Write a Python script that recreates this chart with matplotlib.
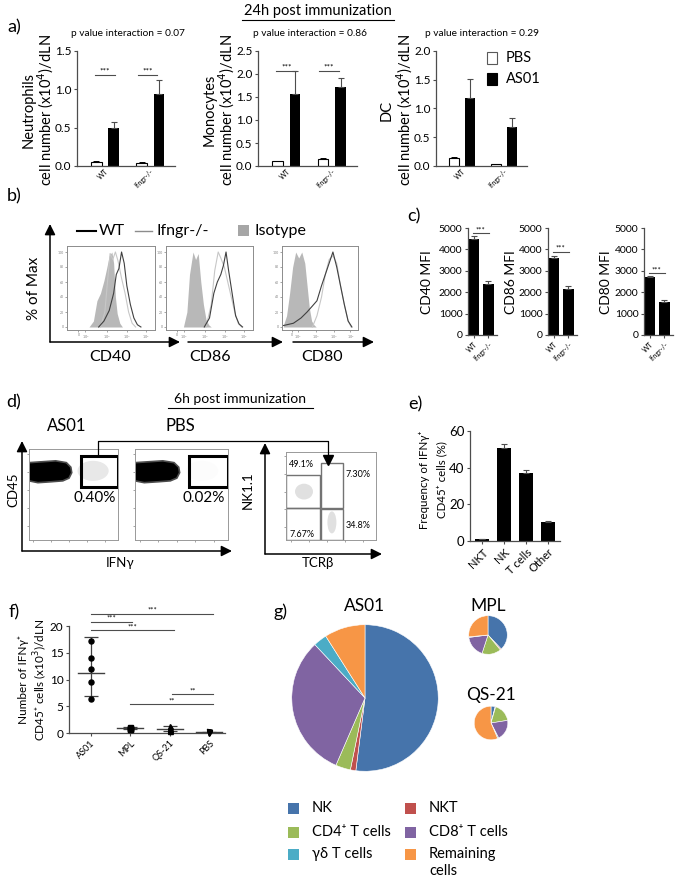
import numpy as np
import matplotlib
matplotlib.use('Agg')
import matplotlib.pyplot as plt
from matplotlib.patches import Rectangle, Polygon, Ellipse

plt.rcParams['font.family'] = ['Lato', 'DejaVu Sans']
plt.rcParams['axes.linewidth'] = 0.9

W, H = 675, 880

# ---------------- data ----------------
# a) cell numbers (x10^4)/dLN, 24h
groups_a = ['WT', 'Ifngr-/-']
neut_pbs, neut_pbs_err = [0.05, 0.04], [0.01, 0.01]
neut_as01, neut_as01_err = [0.49, 0.94], [0.08, 0.18]
mono_pbs, mono_pbs_err = [0.10, 0.16], [0.01, 0.01]
mono_as01, mono_as01_err = [1.56, 1.72], [0.50, 0.20]
dc_pbs, dc_pbs_err = [0.14, 0.03], [0.02, 0.01]
dc_as01, dc_as01_err = [1.18, 0.68], [0.33, 0.16]
p_interaction = ['0.07', '0.86', '0.29']

# b) histograms (x: relative position in plot, y: % of max)
cd40_iso_x = [0.25, 0.30, 0.34, 0.38, 0.42, 0.45, 0.48, 0.51, 0.53, 0.55, 0.57, 0.60, 0.63]
cd40_iso_y = [0, 8, 35, 45, 62, 78, 95, 100, 85, 40, 18, 5, 0]
cd40_wt_x = [0.36, 0.42, 0.48, 0.53, 0.56, 0.59, 0.62, 0.65, 0.68, 0.72, 0.76, 0.80, 0.84]
cd40_wt_y = [0, 8, 22, 45, 70, 78, 100, 85, 55, 30, 12, 3, 0]
cd40_ko_x = [0.38, 0.43, 0.46, 0.49, 0.52, 0.55, 0.58, 0.62, 0.66, 0.70, 0.74, 0.78]
cd40_ko_y = [0, 20, 60, 98, 90, 100, 88, 65, 45, 20, 5, 0]

cd86_iso_x = [0.20, 0.24, 0.27, 0.31, 0.34, 0.37, 0.40, 0.43, 0.46, 0.49, 0.52]
cd86_iso_y = [0, 20, 70, 100, 90, 98, 60, 30, 10, 3, 0]
cd86_wt_x = [0.44, 0.50, 0.55, 0.59, 0.63, 0.66, 0.69, 0.72, 0.76, 0.80, 0.84, 0.88]
cd86_wt_y = [0, 12, 45, 60, 70, 82, 100, 75, 45, 15, 4, 0]
cd86_ko_x = [0.46, 0.52, 0.56, 0.60, 0.63, 0.67, 0.71, 0.75, 0.79, 0.83, 0.87]
cd86_ko_y = [0, 30, 75, 100, 92, 80, 60, 40, 20, 5, 0]

cd80_iso_x = [0.02, 0.06, 0.10, 0.14, 0.18, 0.22, 0.26, 0.30, 0.33, 0.36, 0.39, 0.42, 0.45]
cd80_iso_y = [3, 15, 45, 80, 100, 92, 100, 85, 55, 25, 8, 3, 0]
cd80_wt_x = [0.02, 0.15, 0.25, 0.33, 0.40, 0.46, 0.52, 0.57, 0.62, 0.67, 0.72, 0.77, 0.82, 0.87, 0.92]
cd80_wt_y = [2, 5, 12, 20, 28, 35, 55, 70, 85, 100, 80, 55, 30, 8, 0]
cd80_ko_x = [0.40, 0.46, 0.52, 0.57, 0.62, 0.67, 0.72, 0.77, 0.82, 0.87, 0.91]
cd80_ko_y = [0, 15, 40, 70, 90, 95, 85, 55, 30, 8, 0]

# c) MFI
mfi_groups = ['WT', 'Ifngr-/-']
cd40_mfi, cd40_mfi_err = [4500, 2380], [120, 150]
cd86_mfi, cd86_mfi_err = [3620, 2150], [80, 130]
cd80_mfi, cd80_mfi_err = [2700, 1530], [60, 100]

# d) gates
gate_as01_pct = '0.40%'
gate_pbs_pct = '0.02%'
quad_pct = ['49.1%', '7.30%', '34.8%', '7.67%']

# e) frequency of IFNg+ CD45+ cells (%)
freq_cats = ['NKT', 'NK', 'T cells', 'Other']
freq_vals = [1.0, 51.0, 37.0, 10.5]
freq_err = [0.3, 2.0, 2.0, 0.6]

# f) number of IFNg+ CD45+ cells (x10^3)/dLN
f_cats = ['AS01', 'MPL', 'QS-21', 'PBS']
f_as01 = [17.2, 14.0, 12.0, 9.5, 6.4]
f_mpl = [1.1, 1.0, 0.9, 0.8, 0.7]
f_qs21 = [1.3, 0.9, 0.7, 0.5, 0.3]
f_pbs = [0.2, 0.15, 0.1, 0.05]
f_mean = [11.3, 0.9, 0.75, 0.12]
f_err_low = [4.4, 0.15, 0.4, 0.07]
f_err_high = [6.6, 0.15, 0.5, 0.07]

# g) pies
pie_labels = ['NK', 'NKT', 'CD4\u207a T cells', 'CD8\u207a T cells', '\u03b3\u03b4 T cells', 'Remaining\ncells']
pie_colors = ['#4674AB', '#C0504D', '#9BBB59', '#8064A2', '#4BACC6', '#F79646']
pie_as01 = [52.0, 1.2, 3.3, 31.5, 3.0, 9.0]
pie_mpl = [38.0, 1.0, 16.0, 18.0, 0.5, 26.5]
pie_qs21 = [4.0, 0.5, 18.0, 20.0, 1.0, 56.5]

# ---------------- helpers ----------------
fig = plt.figure(figsize=(W / 100, H / 100), dpi=100)
fig.patch.set_facecolor('white')


def px_axes(x0, y0, x1, y1):
    return fig.add_axes([x0 / W, 1 - y1 / H, (x1 - x0) / W, (y1 - y0) / H])


def style_graphpad(ax):
    for s in ['top', 'right']:
        ax.spines[s].set_visible(False)
    for s in ['left', 'bottom']:
        ax.spines[s].set_color('0.3')
    ax.tick_params(colors='0.3', length=2.5, width=0.8, labelcolor='black', pad=1.5)


ov = fig.add_axes([0, 0, 1, 1], zorder=10)
ov.set_xlim(0, W)
ov.set_ylim(H, 0)
ov.axis('off')


def t(x, y, s, **kw):
    kw.setdefault('ha', 'center')
    kw.setdefault('va', 'center')
    ov.text(x, y, s, **kw)


def arrow(x0, y0, x1, y1):
    ov.annotate('', xy=(x1, y1), xytext=(x0, y0),
                arrowprops=dict(arrowstyle='-|>', color='black', lw=1.1, mutation_scale=16,
                                shrinkA=0, shrinkB=0))


def sig(ax, x0, x1, y, label, fs=6):
    ax.plot([x0, x1], [y, y], color='0.3', lw=0.8, clip_on=False)
    ax.text((x0 + x1) / 2, y, label, ha='center', va='bottom', fontsize=fs, clip_on=False)


# ---------------- a) ----------------
t(318, 11, '24h post immunization', fontsize=10.5)
ov.plot([242, 394], [20, 20], color='black', lw=0.8)
t(14, 27, 'a)', fontsize=13)


def bar_panel_a(ax, pbs, pbs_err, as01, as01_err, ymax, step):
    x = np.arange(len(groups_a))
    ax.bar(x - 0.19, pbs, 0.23, color='white', edgecolor='black', lw=0.8, zorder=2)
    ax.errorbar(x - 0.19, pbs, yerr=[np.zeros(len(x)), pbs_err], fmt='none',
                ecolor='black', elinewidth=0.7, capsize=2, capthick=0.7)
    ax.bar(x + 0.19, as01, 0.23, color='black', zorder=2)
    ax.errorbar(x + 0.19, as01, yerr=[np.zeros(len(x)), as01_err], fmt='none',
                ecolor='0.3', elinewidth=0.8, capsize=2.5, capthick=0.8)
    ax.set_xlim(-0.62, 1.55)
    ax.set_ylim(0, ymax)
    yt = np.arange(0, ymax + 0.001, step)
    ax.set_yticks(yt)
    ax.set_yticklabels(['%.1f' % v for v in yt], fontsize=8.5)
    ax.set_xticks(x)
    ax.set_xticklabels(groups_a, rotation=45, ha='right', rotation_mode='anchor', fontsize=5)
    style_graphpad(ax)
    ax.tick_params(axis='x', length=0)


ax_n = px_axes(77, 51, 175, 166)
bar_panel_a(ax_n, neut_pbs, neut_pbs_err, neut_as01, neut_as01_err, 1.5, 0.5)
sig(ax_n, -0.22, 0.22, 1.19, '***')
sig(ax_n, 0.72, 1.16, 1.19, '***')
t(128, 34, 'p value interaction = ' + p_interaction[0], fontsize=7.3)
t(29, 110, 'Neutrophils', rotation=90, fontsize=10.5)
t(46, 110, 'cell number (x10$^4$)/dLN', rotation=90, fontsize=10.5)

ax_m = px_axes(258, 51, 357, 166)
bar_panel_a(ax_m, mono_pbs, mono_pbs_err, mono_as01, mono_as01_err, 2.5, 0.5)
sig(ax_m, -0.22, 0.22, 2.07, '***')
sig(ax_m, 0.72, 1.16, 2.07, '***')
t(310, 34, 'p value interaction = ' + p_interaction[1], fontsize=7.3)
t(210, 110, 'Monocytes', rotation=90, fontsize=10.5)
t(227, 110, 'cell number (x10$^4$)/dLN', rotation=90, fontsize=10.5)

ax_d = px_axes(436, 51, 527, 166)
bar_panel_a(ax_d, dc_pbs, dc_pbs_err, dc_as01, dc_as01_err, 2.0, 0.5)
t(482, 34, 'p value interaction = ' + p_interaction[2], fontsize=7.3)
t(387, 110, 'DC', rotation=90, fontsize=10.5)
t(405, 110, 'cell number (x10$^4$)/dLN', rotation=90, fontsize=10.5)

ov.add_patch(Rectangle((487, 52), 10, 12, facecolor='white', edgecolor='0.35', lw=0.8))
ov.add_patch(Rectangle((487, 73), 10, 12, facecolor='black', edgecolor='black', lw=0.8))
t(506, 58, 'PBS', ha='left', fontsize=10.5)
t(506, 79, 'AS01', ha='left', fontsize=10.5)

# ---------------- b) ----------------
t(14, 196, 'b)', fontsize=13)
ov.plot([77, 96], [231, 231], color='black', lw=1.5)
t(99, 231, 'WT', ha='left', fontsize=11.5)
ov.plot([135, 152], [231, 231], color='0.55', lw=1.0)
t(156, 231, 'Ifngr-/-', ha='left', fontsize=11.5)
ov.add_patch(Rectangle((238, 225), 11, 11, facecolor='0.65', edgecolor='none'))
t(254, 231, 'Isotype', ha='left', fontsize=11.5)

hist_sets = [
    (cd40_iso_x, cd40_iso_y, cd40_wt_x, cd40_wt_y, cd40_ko_x, cd40_ko_y),
    (cd86_iso_x, cd86_iso_y, cd86_wt_x, cd86_wt_y, cd86_ko_x, cd86_ko_y),
    (cd80_iso_x, cd80_iso_y, cd80_wt_x, cd80_wt_y, cd80_ko_x, cd80_ko_y),
]
hist_boxes = [(67, 246, 155, 330), (166, 246, 253, 330), (282, 246, 358, 330)]
hist_names = ['CD40', 'CD86', 'CD80']
hist_label_x = [110, 210, 322]
for (ix, iy, wx, wy, kx, ky), box, name, lx in zip(hist_sets, hist_boxes, hist_names, hist_label_x):
    ax = px_axes(*box)
    ax.fill_between(ix, iy, color='0.72', lw=0)
    ax.plot(kx, ky, color='0.78', lw=0.8)
    ax.plot(wx, wy, color='0.25', lw=0.8)
    ax.set_xlim(0, 1)
    ax.set_ylim(-4, 108)
    ax.set_yticks([0, 20, 40, 60, 80, 100])
    ax.set_yticklabels(['0', '20', '40', '60', '80', '100'], fontsize=2.5, color='0.4')
    ax.set_xticks([0.13, 0.21, 0.45, 0.68, 0.9])
    ax.set_xticklabels(['0', '$10^2$', '$10^3$', '$10^4$', '$10^5$'], fontsize=2.5, color='0.4')
    ax.tick_params(length=1.5, width=0.5, colors='0.5', pad=1)
    for s in ax.spines.values():
        s.set_color('0.55')
        s.set_linewidth(0.7)
    t(lx, 357, name, fontsize=11.5)

arrow(50, 342, 50, 224)
arrow(50, 342, 180, 342)
arrow(188, 342, 283, 342)
arrow(293, 342, 374, 342)
t(34, 288, '% of Max', rotation=90, fontsize=11)

# ---------------- c) ----------------
t(414, 216, 'c)', fontsize=13)
mfi_sets = [(cd40_mfi, cd40_mfi_err, 'CD40 MFI', 468, 427, 4760),
            (cd86_mfi, cd86_mfi_err, 'CD86 MFI', 548, 511, 3880),
            (cd80_mfi, cd80_mfi_err, 'CD80 MFI', 644, 606, 2880)]
for vals, errs, lab, x0, lab_x, sy in mfi_sets:
    ax = px_axes(x0, 228, x0 + 29, 335)
    xx = np.arange(len(mfi_groups))
    ax.bar(xx, vals, 0.72, color='black')
    ax.errorbar(xx, vals, yerr=[np.zeros(len(xx)), errs], fmt='none', ecolor='0.3',
                elinewidth=0.8, capsize=2, capthick=0.8)
    ax.set_xlim(-0.42, 1.6)
    ax.set_ylim(0, 5000)
    ax.set_yticks([0, 1000, 2000, 3000, 4000, 5000])
    ax.set_yticklabels(['0', '1000', '2000', '3000', '4000', '5000'], fontsize=7.5)
    ax.set_xticks(xx)
    ax.set_xticklabels(mfi_groups, rotation=45, ha='right', rotation_mode='anchor', fontsize=5)
    style_graphpad(ax)
    sig(ax, -0.1, 1.05, sy, '***', fs=5.5)
    t(lab_x, 282, lab, rotation=90, fontsize=10)

# ---------------- d) ----------------
t(14, 402, 'd)', fontsize=13)
t(240, 399, '6h post immunization', fontsize=10)
ov.plot([168, 313], [408, 408], color='black', lw=0.8)
t(67, 426, 'AS01', fontsize=12)
t(180, 426, 'PBS', fontsize=12)

blob_x = [0.0, 0.10, 0.25, 0.38, 0.45, 0.48, 0.47, 0.42, 0.30, 0.15, 0.0]
blob_y = [0.65, 0.63, 0.64, 0.65, 0.68, 0.74, 0.80, 0.85, 0.87, 0.86, 0.85]
dot_boxes = [(29, 449, 118, 540), (135, 449, 228, 540)]
dot_gate_pct = [gate_as01_pct, gate_pbs_pct]
dot_haze = [0.45, 0.05]
for box, pct, haze in zip(dot_boxes, dot_gate_pct, dot_haze):
    ax = px_axes(*box)
    ax.add_patch(Polygon(np.column_stack([blob_x, blob_y]), closed=True,
                         facecolor='black', edgecolor='0.3', lw=1.2))
    ax.add_patch(Ellipse((0.72, 0.76), 0.35, 0.22, facecolor='0.8', alpha=haze, lw=0))
    ax.add_patch(Rectangle((0.58, 0.58), 0.42, 0.34, fill=False, edgecolor='black', lw=2.2))
    ax.set_xlim(0, 1)
    ax.set_ylim(0, 1)
    ax.set_xticks([0.05, 0.25, 0.45, 0.65, 0.85])
    ax.set_yticks([0.15, 0.35, 0.55, 0.75, 0.95])
    ax.set_xticklabels([])
    ax.set_yticklabels([])
    ax.tick_params(length=1.5, width=0.5, colors='0.5')
    for s in ax.spines.values():
        s.set_color('0.6')
        s.set_linewidth(0.7)
    t(box[0] + 0.74 * (box[2] - box[0]), 498, pct, fontsize=11)

ax = px_axes(286, 452, 376, 540)
ax.add_patch(Ellipse((0.2, 0.55), 0.2, 0.18, facecolor='0.8', alpha=0.6, lw=0))
ax.add_patch(Ellipse((0.51, 0.2), 0.1, 0.25, facecolor='0.8', alpha=0.6, lw=0))
for rx, ry, rw, rh in [(0.0, 0.36, 0.38, 0.38), (0.39, 0.36, 0.24, 0.51),
                       (0.39, 0.0, 0.24, 0.35), (0.0, 0.0, 0.38, 0.36)]:
    ax.add_patch(Rectangle((rx, ry), rw, rh, fill=False, edgecolor='0.45', lw=1.0))
ax.set_xlim(0, 1)
ax.set_ylim(0, 1)
ax.set_xticks([0.05, 0.25, 0.45, 0.65, 0.85])
ax.set_yticks([0.15, 0.35, 0.55, 0.75, 0.95])
ax.set_xticklabels([])
ax.set_yticklabels([])
ax.tick_params(length=1.5, width=0.5, colors='0.5')
for s in ax.spines.values():
    s.set_color('0.6')
    s.set_linewidth(0.7)
ax.text(0.03, 0.86, quad_pct[0], fontsize=6.5, va='center')
ax.text(0.66, 0.75, quad_pct[1], fontsize=6.5, va='center')
ax.text(0.66, 0.17, quad_pct[2], fontsize=6.5, va='center')
ax.text(0.04, 0.06, quad_pct[3], fontsize=6.5, va='center')

# gating connector
ov.plot([98, 98, 328, 328], [456, 441, 441, 456], color='black', lw=0.9)
ov.plot([328], [460], marker='v', color='black', markersize=7)

arrow(22, 551, 22, 441)
arrow(22, 551, 232, 551)
arrow(265, 554, 265, 443)
arrow(265, 554, 382, 554)
t(13, 490, 'CD45', rotation=90, fontsize=9.5)
t(120, 563, 'IFN\u03b3', fontsize=9.5)
t(248, 490, 'NK1.1', rotation=90, fontsize=9.5)
t(318, 563, 'TCR\u03b2', fontsize=9.5)

# ---------------- e) ----------------
t(415, 404, 'e)', fontsize=13)
ax = px_axes(470, 431, 560, 541)
xe = np.arange(len(freq_cats))
ax.bar(xe, freq_vals, 0.62, color='black')
ax.errorbar(xe, freq_vals, yerr=[np.zeros(len(xe)), freq_err], fmt='none', ecolor='0.3',
            elinewidth=0.8, capsize=2.5, capthick=0.8)
ax.set_xlim(-0.55, 3.55)
ax.set_ylim(0, 60)
ax.set_yticks([0, 20, 40, 60])
ax.set_yticklabels(['0', '20', '40', '60'], fontsize=9.5)
ax.set_xticks(xe)
ax.set_xticklabels(freq_cats, rotation=45, ha='right', rotation_mode='anchor', fontsize=8)
style_graphpad(ax)
t(424, 480, 'Frequency of IFN\u03b3\u207a', rotation=90, fontsize=8.3)
t(442, 480, 'CD45\u207a cells (%)', rotation=90, fontsize=8.3)

# ---------------- f) ----------------
t(14, 612, 'f)', fontsize=13)
ax = px_axes(69, 626, 225, 733)
groups_f = [f_as01, f_mpl, f_qs21, f_pbs]
markers_f = ['o', 's', '^', 'v']
for i, (vals, mk) in enumerate(zip(groups_f, markers_f)):
    ax.plot([i] * len(vals), vals, mk, color='black', markersize=3.6, clip_on=False, zorder=3)
    ax.plot([i - 0.33, i + 0.33], [f_mean[i], f_mean[i]], color='0.25', lw=1.0)
    ax.errorbar([i], [f_mean[i]], yerr=[[f_err_low[i]], [f_err_high[i]]], fmt='none',
                ecolor='0.25', elinewidth=0.9, capsize=5, capthick=0.9)
ax.set_xlim(-0.55, 3.4)
ax.set_ylim(0, 20)
ax.set_yticks([0, 5, 10, 15, 20])
ax.set_yticklabels(['0', '5', '10', '15', '20'], fontsize=8.5)
ax.set_xticks(range(len(f_cats)))
ax.set_xticklabels(f_cats, rotation=45, ha='right', rotation_mode='anchor', fontsize=6.5)
style_graphpad(ax)
sig(ax, 0, 3.1, 22.3, '***', fs=5.5)
sig(ax, 0, 1.05, 20.8, '***', fs=5.5)
sig(ax, 0, 2.1, 19.2, '***', fs=5.5)
sig(ax, 2.05, 3.1, 7.2, '**', fs=5.5)
sig(ax, 1.0, 3.1, 5.4, '**', fs=5.5)
t(23, 680, 'Number of IFN\u03b3\u207a', rotation=90, fontsize=8.5)
t(41, 680, 'CD45\u207a cells (x10$^3$)/dLN', rotation=90, fontsize=8.5)

# ---------------- g) ----------------
t(281, 612, 'g)', fontsize=13)
pie_specs = [(pie_as01, 'AS01', 365, 698, 74, 606),
             (pie_mpl, 'MPL', 488, 635, 19.5, 606),
             (pie_qs21, 'QS-21', 491, 723, 17, 695)]
for vals, name, cx, cy, r, ty in pie_specs:
    ax = px_axes(cx - r, cy - r, cx + r, cy + r)
    ax.pie(vals, colors=pie_colors, startangle=90, counterclock=False, radius=1,
           wedgeprops=dict(edgecolor='white', linewidth=0.4))
    ax.set_xlim(-1.01, 1.01)
    ax.set_ylim(-1.01, 1.01)
    ax.set_aspect('equal')
    t(cx, ty, name, fontsize=12.5)

leg_pos = [(293, 808), (410, 808), (293, 832), (410, 832), (293, 854), (410, 854)]
for (lx, ly), lab, col in zip(leg_pos, pie_labels, pie_colors):
    ov.add_patch(Rectangle((lx - 5, ly - 5), 11, 11, facecolor=col, edgecolor='none'))
    if '\n' in lab:
        t(lx + 19, ly - 7, lab, ha='left', va='top', fontsize=10.5, linespacing=1.25)
    else:
        t(lx + 19, ly, lab, ha='left', fontsize=10.5)

fig.savefig('out.png', dpi=100, facecolor='white')
